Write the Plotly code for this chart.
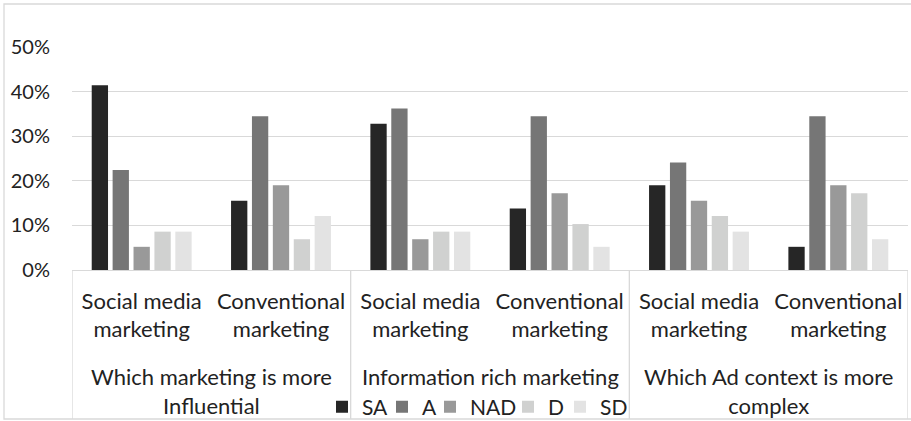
import plotly.graph_objects as go

# Survey responses (share of respondents) per question / marketing type
groups = [
    "Which marketing is more<br>Influential",
    "Information rich marketing",
    "Which Ad context is more<br>complex",
]
subcategories = ["Social media<br>marketing", "Conventional<br>marketing"]

SA = [41.4, 15.5, 32.8, 13.8, 19.0, 5.2]
A = [22.4, 34.5, 36.2, 34.5, 24.1, 34.5]
NAD = [5.2, 19.0, 6.9, 17.2, 15.5, 19.0]
D = [8.6, 6.9, 8.6, 10.3, 12.1, 17.2]
SD = [8.6, 12.1, 8.6, 5.2, 8.6, 6.9]

series = [("SA", SA, "#262626"), ("A", A, "#767676"), ("NAD", NAD, "#999999"),
          ("D", D, "#d0d1d0"), ("SD", SD, "#e3e3e3")]
# horizontal room reserved for each legend entry's label
legend_widths = [15, 3, 33, 7, 22]

tick_text = [s for _ in groups for s in subcategories]
positions = list(range(len(tick_text)))

FONT = "Lato"
TXT = "#222222"
GRID = "#d9d9d9"
FS_CAT = 22
FS_TICK = 20
FS_LEG = 21

# layout geometry (pixels)
W, H = 911, 421
ML, MR, MT, MB = 72, 3, 47, 151
plot_h = H - MT - MB
plot_w = W - ML - MR


def py(y):
    """pixel row -> paper y"""
    return (H - MB - y) / plot_h


def px(x):
    """pixel column -> paper x"""
    return (x - ML) / plot_w


fig = go.Figure()
for (name, vals, color), lw in zip(series, legend_widths):
    fig.add_trace(go.Bar(
        x=positions, y=[v / 100 for v in vals], name=name,
        marker=dict(color=color, line=dict(width=0)),
        legendwidth=lw,
    ))

shapes = []
# outer chart frame
shapes.append(dict(type="rect", xref="paper", yref="paper",
                   x0=px(4), x1=px(930), y0=py(419), y1=py(4),
                   line=dict(color=GRID, width=1.3), layer="below"))
# group dividers below the axis
n_sub = len(subcategories)
for g in range(len(groups) + 1):
    xb = g * n_sub - 0.5
    shapes.append(dict(type="line", xref="x", yref="paper",
                       x0=xb, x1=xb, y0=0, y1=py(419),
                       line=dict(color=GRID, width=1.3)))

annotations = []
for g, label in enumerate(groups):
    annotations.append(dict(
        x=g * n_sub + (n_sub - 1) / 2, xref="x", y=py(361), yref="paper",
        yanchor="top", xanchor="center", showarrow=False, text=label,
        font=dict(family=FONT, size=FS_CAT, color=TXT),
    ))

fig.update_layout(
    width=W, height=H,
    margin=dict(l=ML, r=MR, t=MT, b=MB, autoexpand=False),
    paper_bgcolor="white", plot_bgcolor="white",
    barmode="group", bargap=0.25, bargroupgap=0.22,
    font=dict(family=FONT, size=FS_CAT, color=TXT),
    xaxis=dict(
        range=[-0.5, len(positions) - 0.5], tickmode="array",
        tickvals=positions, ticktext=tick_text, ticks="",
        showgrid=False, zeroline=False, showline=True,
        linecolor=GRID, linewidth=1.3, ticklabelstandoff=11,
        tickfont=dict(family=FONT, size=FS_CAT, color=TXT),
    ),
    yaxis=dict(
        range=[0, 0.5], dtick=0.1, tickformat=".0%", ticks="",
        showgrid=True, gridcolor=GRID, gridwidth=1.3,
        zeroline=False, showline=False, ticklabelstandoff=21,
        tickfont=dict(family=FONT, size=FS_TICK, color=TXT),
    ),
    legend=dict(
        orientation="h", x=px(322), xanchor="left", y=py(407),
        yanchor="middle", bgcolor="rgba(0,0,0,0)",
        font=dict(family=FONT, size=FS_LEG, color=TXT),
    ),
    shapes=shapes, annotations=annotations, showlegend=True,
)

fig.write_html("out.html")
